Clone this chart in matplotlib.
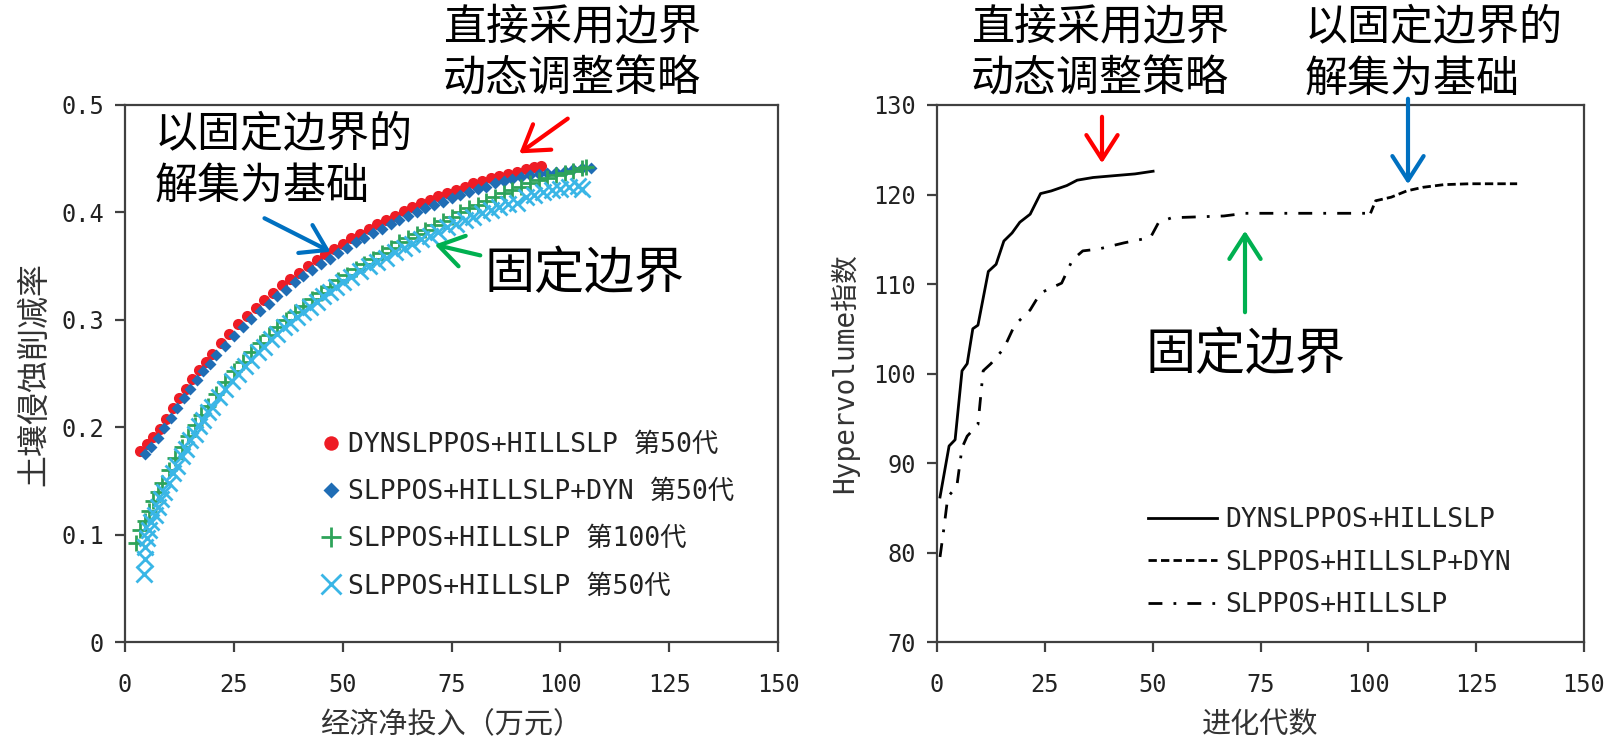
import numpy as np
import matplotlib
matplotlib.use("Agg")
import matplotlib.pyplot as plt

# 字体：等宽 + 中文回退
MONO = ['DejaVu Sans Mono', 'Noto Sans CJK SC']
CJK = ['Noto Sans CJK SC', 'DejaVu Sans']
plt.rcParams['font.family'] = CJK

# ---- 左图：帕累托前沿 (经济净投入 vs 土壤侵蚀削减率) ----
red_x = [3.5, 5, 6.5, 8, 9.5, 11, 12.5, 14, 15.5, 17, 18.5, 20, 22, 24, 26, 28, 30, 32, 34, 36,
         38, 40, 42, 44, 46, 48, 50, 52, 54, 56, 58, 60, 62, 64, 66, 68, 70, 72, 74, 76,
         78, 80, 82, 84, 86, 88, 90, 92, 94, 95.5]
red_y = [0.178, 0.184, 0.191, 0.198, 0.208, 0.218, 0.227, 0.236, 0.245, 0.253, 0.261, 0.268, 0.278,
         0.287, 0.296, 0.304, 0.311, 0.318, 0.325, 0.332, 0.338, 0.344, 0.350, 0.356, 0.361, 0.366,
         0.371, 0.376, 0.380, 0.385, 0.389, 0.393, 0.397, 0.401, 0.405, 0.409, 0.412, 0.415, 0.418,
         0.421, 0.424, 0.427, 0.429, 0.432, 0.434, 0.436, 0.438, 0.440, 0.442, 0.443]

blue_x = [4.5, 6, 7.5, 9, 10.5, 12, 13.5, 15, 16.5, 18, 19.5, 21, 23, 25, 27, 29, 31, 33, 35, 37,
          39, 41, 43, 45, 47, 49, 51, 53, 55, 57, 59, 61, 63, 65, 67, 69, 71, 73, 75, 77,
          79, 81, 83, 85, 87, 89, 91, 93, 95, 97, 99, 101, 103, 105, 107]
blue_y = [0.175, 0.182, 0.190, 0.199, 0.209, 0.218, 0.227, 0.236, 0.244, 0.252, 0.259, 0.267, 0.276,
          0.285, 0.293, 0.301, 0.308, 0.315, 0.322, 0.328, 0.335, 0.341, 0.346, 0.352, 0.357, 0.362,
          0.367, 0.372, 0.376, 0.381, 0.385, 0.389, 0.393, 0.397, 0.400, 0.404, 0.407, 0.410, 0.413,
          0.416, 0.419, 0.422, 0.424, 0.427, 0.429, 0.431, 0.433, 0.435, 0.436, 0.437, 0.438, 0.439,
          0.440, 0.441, 0.441]

green_x = [2.5, 3.5, 4.5, 5.5, 6.5, 7.5, 8.5, 10, 11.5, 13, 14.5, 16, 17.5, 19, 21, 23, 25, 27, 29, 31,
           33, 35, 37, 39, 41, 43, 45, 47, 49, 51, 53, 55, 57, 59, 61, 63, 65, 67, 69, 71,
           73, 75, 77, 79, 81, 83, 85, 87, 89, 91, 93, 95, 97, 99, 101, 103, 105, 106]
green_y = [0.092, 0.104, 0.113, 0.122, 0.131, 0.140, 0.148, 0.160, 0.171, 0.182, 0.192, 0.202, 0.211,
           0.220, 0.231, 0.242, 0.252, 0.261, 0.270, 0.278, 0.286, 0.293, 0.300, 0.307, 0.313, 0.319,
           0.325, 0.331, 0.337, 0.342, 0.347, 0.352, 0.357, 0.362, 0.367, 0.372, 0.376, 0.380, 0.384,
           0.388, 0.392, 0.396, 0.400, 0.404, 0.407, 0.411, 0.414, 0.418, 0.421, 0.424, 0.427, 0.430,
           0.432, 0.435, 0.437, 0.439, 0.441, 0.442]

cyan_x = [4.3, 4.7, 4.5, 5, 5.5, 6, 6.8, 7.5, 8.3, 9, 10, 11, 12, 13, 14, 15, 16, 17, 18, 19,
          20, 21.5, 23, 24.5, 26, 27.5, 29, 30.5, 32, 33.5, 35, 36.5, 38, 39.5, 41, 42.5, 44, 45.5,
          47, 48.5, 50, 52, 54, 56, 58, 60, 62, 64, 66, 68, 70, 72, 74, 76, 78, 80, 82, 84,
          86, 88, 90, 92, 94, 96, 98, 100, 102, 104, 105]
cyan_y = [0.063, 0.077, 0.088, 0.097, 0.104, 0.112, 0.118, 0.126, 0.133, 0.140, 0.148, 0.157, 0.164,
          0.173, 0.180, 0.188, 0.194, 0.201, 0.207, 0.214, 0.219, 0.228, 0.236, 0.243, 0.250, 0.257,
          0.263, 0.270, 0.275, 0.282, 0.287, 0.293, 0.297, 0.303, 0.307, 0.312, 0.317, 0.322, 0.326,
          0.331, 0.335, 0.340, 0.345, 0.350, 0.354, 0.358, 0.363, 0.367, 0.371, 0.375, 0.378, 0.382,
          0.386, 0.389, 0.393, 0.396, 0.399, 0.402, 0.405, 0.408, 0.409, 0.414, 0.416, 0.419, 0.421,
          0.422, 0.424, 0.425, 0.422]

left_labels = ['DYNSLPPOS+HILLSLP 第50代', 'SLPPOS+HILLSLP+DYN 第50代',
               'SLPPOS+HILLSLP 第100代', 'SLPPOS+HILLSLP 第50代']
left_yticks = [0, 0.1, 0.2, 0.3, 0.4, 0.5]
left_yticklabels = ['0', '0.1', '0.2', '0.3', '0.4', '0.5']
xticks = [0, 25, 50, 75, 100, 125, 150]

# ---- 右图：Hypervolume 随进化代数变化 ----
dyn_gen = [0.7, 2.8, 4.2, 5.8, 7.0, 8.3, 9.5, 11.9, 13.7, 15.5, 17.4, 19.2, 21.6, 24, 26.5,
           30.1, 32.5, 36.2, 41, 45.9, 50.1]
dyn_hv = [86.2, 91.9, 92.6, 100.3, 101.1, 105, 105.4, 111.4, 112.2, 114.8, 115.7, 116.9, 117.8,
          120.1, 120.4, 121, 121.6, 121.9, 122.1, 122.3, 122.6]

fix_gen = [0.7, 1.6, 2.5, 4.6, 5.8, 7.0, 9.5, 10.7, 12.5, 15.5, 18, 21.6, 24, 28.9, 31.4, 33.8,
           37.4, 43.4, 49.5, 51.4, 54.4, 60.4, 66.5, 71.4, 77.4, 89.6, 100.5]
fix_hv = [79.5, 82.7, 86.2, 87.4, 91.7, 93, 94.3, 100.3, 101.1, 102.8, 105.4, 107.1, 109, 110.1,
          112.7, 113.7, 113.9, 114.6, 115.2, 116.9, 117.4, 117.5, 117.6, 117.9, 117.9, 117.9, 117.9]

cont_gen = [100.5, 101.7, 105.3, 108.9, 112.6, 117.5, 123.5, 134.5]
cont_hv = [117.9, 119.3, 119.7, 120.4, 120.8, 121.1, 121.2, 121.2]

right_labels = ['DYNSLPPOS+HILLSLP', 'SLPPOS+HILLSLP+DYN', 'SLPPOS+HILLSLP']
right_yticks = [70, 80, 90, 100, 110, 120, 130]

W, H = 1621, 745
fig = plt.figure(figsize=(W / 100, H / 100), dpi=100)
fig.patch.set_facecolor('white')

ax1 = fig.add_axes([125 / W, 1 - 642 / H, 653 / W, 537 / H])
ax2 = fig.add_axes([937 / W, 1 - 642 / H, 647 / W, 537 / H])

ax1.plot(red_x, red_y, 'o', color='#ee1c25', ms=8, mec='none', label=left_labels[0])
ax1.plot(blue_x, blue_y, 'D', color='#1f6db5', ms=6.5, mec='none', label=left_labels[1])
ax1.plot(green_x, green_y, '+', color='#2ea35a', ms=11, mew=2, label=left_labels[2])
ax1.plot(cyan_x, cyan_y, 'x', color='#3ab6e6', ms=11, mew=2, label=left_labels[3])

ax1.set_xlim(0, 150)
ax1.set_ylim(0, 0.5)
ax1.set_yticks(left_yticks)
ax1.set_yticklabels(left_yticklabels)

ax2.plot(dyn_gen, dyn_hv, '-', color='black', lw=2, label=right_labels[0])
ax2.plot(cont_gen, cont_hv, '--', color='black', lw=2, dashes=(3, 1.5), label=right_labels[1])
ax2.plot(fix_gen, fix_hv, '-.', color='black', lw=2, dashes=(5, 4, 1, 4), label=right_labels[2])
ax2.set_xlim(0, 150)
ax2.set_ylim(70, 130)
ax2.set_yticks(right_yticks)

for ax in (ax1, ax2):
    ax.set_xticks(xticks)
    for s in ax.spines.values():
        s.set_color('#404040')
        s.set_linewidth(1.6)
    ax.tick_params(direction='out', length=7, width=1.6, color='#404040',
                   labelcolor='#222222', labelsize=17)
    ax.tick_params(axis='x', pad=15)
    ax.tick_params(axis='y', pad=8)
    for lab in ax.get_xticklabels() + ax.get_yticklabels():
        lab.set_family(MONO)
    ax.set_facecolor('none')

ax1.set_xlabel('经济净投入（万元）', fontsize=21, color='#333333', labelpad=10)
ax1.set_ylabel('土壤侵蚀削减率', fontsize=23, color='#333333', labelpad=8)
ax2.set_xlabel('进化代数', fontsize=21, color='#333333', labelpad=10)
ax2.set_ylabel('Hypervolume指数', fontsize=20, color='#333333', labelpad=10, family=MONO)

leg1 = ax1.legend(loc='upper left', bbox_to_anchor=(0.265, 0.435), frameon=False,
                  prop={'family': MONO, 'size': 19}, handlelength=0.7, handletextpad=0.3,
                  labelspacing=0.8, markerscale=1.3)
for t in leg1.get_texts():
    t.set_color('#222222')
leg2 = ax2.legend(loc='upper left', bbox_to_anchor=(0.29, 0.295), frameon=False,
                  prop={'family': MONO, 'size': 19}, handlelength=2.6, handletextpad=0.3,
                  labelspacing=0.62)
for t in leg2.get_texts():
    t.set_color('#222222')


def ftext(px, py, s, size, ha='left', va='top'):
    fig.text(px / W, 1 - py / H, s, fontsize=size, ha=ha, va=va, family=CJK,
             color='black', linespacing=1.22)


def farrow(x0, y0, x1, y1, color):
    fig.add_artist(matplotlib.patches.FancyArrowPatch(
        (x0 / W, 1 - y0 / H), (x1 / W, 1 - y1 / H), transform=fig.transFigure,
        arrowstyle='->,head_length=0.7,head_width=0.45', mutation_scale=25,
        lw=3, color=color))


# 左图标注
ftext(572, 6, '直接采用边界\n动态调整策略', 31, ha='center')
farrow(570, 117, 517, 155, '#ff0000')
ftext(155, 113, '以固定边界的\n解集为基础', 31)
farrow(262, 217, 333, 253, '#0070c0')
ftext(484, 274, '固定边界', 36, va='center')
farrow(483, 256, 432, 244, '#00b050')

# 右图标注
ftext(1100, 6, '直接采用边界\n动态调整策略', 31, ha='center')
farrow(1102, 114, 1102, 166, '#ff0000')
ftext(1305, 6, '以固定边界的\n解集为基础', 31)
farrow(1408, 96, 1408, 187, '#0070c0')
ftext(1146, 355, '固定边界', 36, va='center')
farrow(1245, 315, 1245, 228, '#00b050')

fig.savefig('out.png', dpi=100, facecolor='white')
